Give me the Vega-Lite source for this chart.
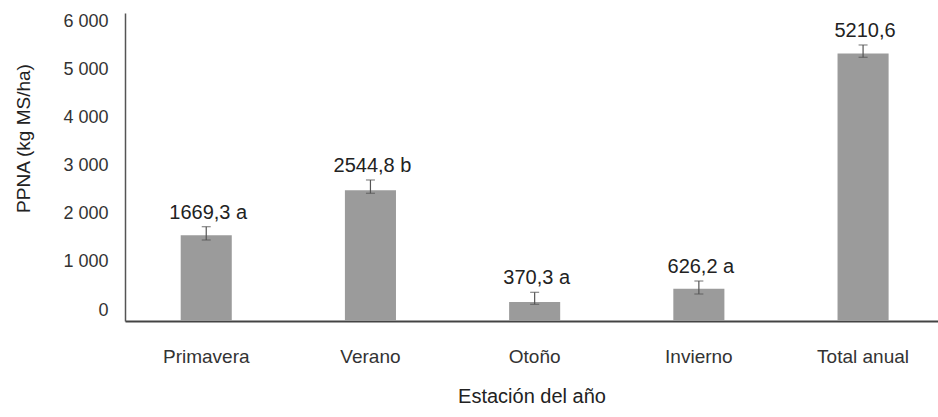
{
  "$schema": "https://vega.github.io/schema/vega-lite/v6.json",
  "width": 813,
  "height": 308,
  "autosize": {"type": "none"},
  "padding": {"left": 125, "top": 13, "right": 0, "bottom": 96},
  "background": "white",
  "config": {"view": {"stroke": null}, "font": "Liberation Sans"},
  "data": {"values": [
    {"season": "Primavera", "value": 1669.3, "lo": 1578, "hi": 1837, "label": "1669,3 a"},
    {"season": "Verano", "value": 2544.8, "lo": 2488, "hi": 2747, "label": "2544,8 b"},
    {"season": "Otoño", "value": 370.3, "lo": 325, "hi": 559, "label": "370,3 a"},
    {"season": "Invierno", "value": 626.2, "lo": 526, "hi": 779, "label": "626,2 a"},
    {"season": "Total anual", "value": 5210.6, "lo": 5137, "hi": 5377, "label": "5210,6"}
  ]},
  "encoding": {
    "x": {
      "field": "season", "type": "nominal", "sort": null,
      "scale": {"paddingInner": 0.689, "paddingOuter": 0.32, "align": 0.53},
      "axis": {
        "title": "Estación del año", "labelAngle": 0, "ticks": false, "tickSize": 0,
        "domainColor": "#444", "domainWidth": 2,
        "labelFontSize": 19, "labelColor": "#333", "labelPadding": 26, "labelBaseline": "top",
        "titleFontSize": 20, "titleFontWeight": "normal", "titleColor": "#222",
        "titleY": 75, "titleBaseline": "middle"
      }
    }
  },
  "layer": [
    {
      "mark": {"type": "bar", "color": "#9b9b9b"},
      "encoding": {
        "y": {
          "field": "value", "type": "quantitative", "title": "PPNA (kg MS/ha)",
          "scale": {"domain": [0, 6000], "nice": false},
          "axis": {
            "title": "PPNA (kg MS/ha)",
            "values": [0, 1000, 2000, 3000, 4000, 5000, 6000],
            "labelExpr": "replace(format(datum.value, ','), ',', ' ')",
            "grid": false, "ticks": false, "tickSize": 0,
            "domainColor": "#555", "domainWidth": 1.5,
            "labelFontSize": 18, "labelColor": "#333", "labelPadding": 17,
            "labelOffset": {"expr": "-11 + datum.value * 0.00317"},
            "titleFontSize": 19, "titleFontWeight": "normal", "titleColor": "#222",
            "titleAngle": -90, "titleX": -102, "titleY": 125,
            "titleAlign": "center", "titleBaseline": "middle"
          }
        }
      }
    },
    {
      "mark": {"type": "rule", "color": "#555", "strokeWidth": 1.2},
      "encoding": {
        "y": {"field": "lo", "type": "quantitative", "title": "PPNA (kg MS/ha)"},
        "y2": {"field": "hi"}
      }
    },
    {
      "mark": {"type": "tick", "color": "#555", "size": 9, "thickness": 1.2, "orient": "horizontal"},
      "encoding": {"y": {"field": "hi", "type": "quantitative", "title": "PPNA (kg MS/ha)"}}
    },
    {
      "mark": {"type": "tick", "color": "#555", "size": 9, "thickness": 1.2, "orient": "horizontal"},
      "encoding": {"y": {"field": "lo", "type": "quantitative", "title": "PPNA (kg MS/ha)"}}
    },
    {
      "mark": {"type": "text", "fontSize": 20, "baseline": "alphabetic", "dy": -8, "dx": 2, "color": "#222"},
      "encoding": {
        "y": {"field": "hi", "type": "quantitative", "title": "PPNA (kg MS/ha)"},
        "text": {"field": "label"}
      }
    }
  ]
}
